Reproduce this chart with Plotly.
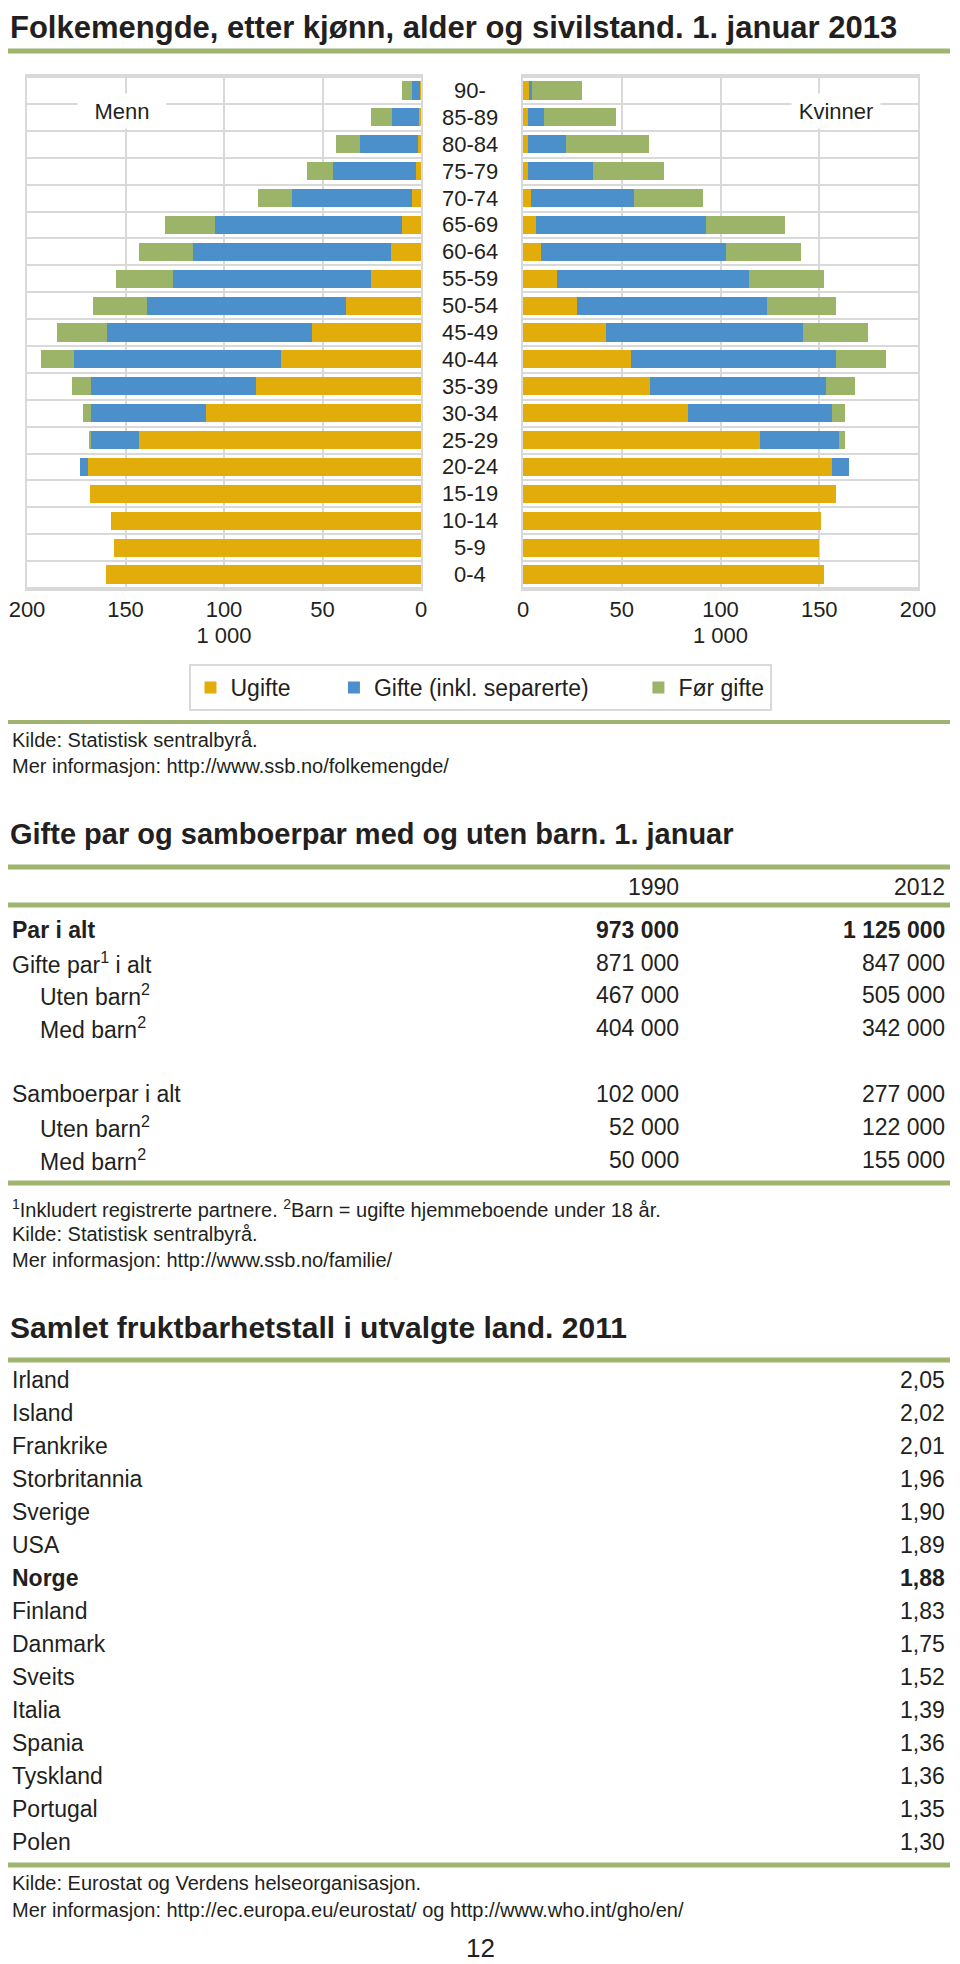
import plotly.graph_objects as go

W, H = 960, 1964
BODY = 8  # the page body margin moves the figure 8 px right and down

# --- Folkemengde (1 000 personer), yngste aldersgruppe først ---
aldersgrupper = ["0-4", "5-9", "10-14", "15-19", "20-24", "25-29", "30-34", "35-39", "40-44",
                 "45-49", "50-54", "55-59", "60-64", "65-69", "70-74", "75-79", "80-84", "85-89", "90-"]

menn_ugifte = [160.0, 156.0, 157.5, 168.0, 169.0, 143.2, 109.2, 84.0, 71.1, 55.1,
               38.1, 25.2, 15.0, 9.5, 4.4, 2.7, 1.7, 0.8, 0.6]
menn_gifte = [0, 0, 0, 0, 4.1, 24.8, 58.5, 83.7, 104.8, 104.4,
              101.0, 100.7, 100.5, 95.2, 61.2, 41.8, 29.3, 13.9, 4.1]
menn_for_gifte = [0, 0, 0, 0, 0, 0.7, 4.1, 9.4, 17.0, 25.2,
                  27.6, 29.1, 27.7, 25.2, 17.0, 13.6, 12.2, 10.9, 5.1]

kvinner_ugifte = [152.3, 149.9, 151.1, 158.7, 156.3, 120.0, 83.6, 64.3, 54.8, 41.8,
                  27.4, 17.1, 9.3, 6.8, 4.1, 2.4, 2.5, 2.5, 3.0]
kvinner_gifte = [0, 0, 0, 0, 9.0, 40.1, 72.9, 89.2, 103.9, 99.8,
                 96.1, 97.5, 93.4, 85.8, 51.9, 32.8, 19.3, 8.0, 1.4]
kvinner_for_gifte = [0, 0, 0, 0, 0, 2.7, 6.3, 14.6, 25.0, 33.0,
                     35.2, 37.7, 38.1, 40.1, 35.2, 36.4, 42.1, 36.4, 25.5]

x_ticks = [0, 50, 100, 150, 200]

# --- Gifte par og samboerpar ---
par_aar = ["1990", "2012"]
par_tekst = ["Par i alt", "Gifte par<sup>1</sup> i alt", "Uten barn<sup>2</sup>", "Med barn<sup>2</sup>",
             "Samboerpar i alt", "Uten barn<sup>2</sup>", "Med barn<sup>2</sup>"]
par_1990 = [973000, 871000, 467000, 404000, 102000, 52000, 50000]
par_2012 = [1125000, 847000, 505000, 342000, 277000, 122000, 155000]

# --- Samlet fruktbarhetstall 2011 ---
land = ["Irland", "Island", "Frankrike", "Storbritannia", "Sverige", "USA", "Norge", "Finland",
        "Danmark", "Sveits", "Italia", "Spania", "Tyskland", "Portugal", "Polen"]
fruktbarhet = [2.05, 2.02, 2.01, 1.96, 1.90, 1.89, 1.88, 1.83, 1.75, 1.52, 1.39, 1.36, 1.36, 1.35, 1.30]

C_UGIFTE = "#e2ac0a"
C_GIFTE = "#4b8fcb"
C_FOR = "#9bb467"
C_LINE = "#9fb46f"
GRID = "#d9d9d9"
CHART_FONT = "Liberation Sans, Arial, sans-serif"
TXT_FONT = "Liberation Sans Narrow, Arial Narrow, Liberation Sans, Arial, sans-serif"
INK = "#231f20"
NB = "\u00a0"


def py(y):
    """Screen pixel row -> paper y."""
    return 1 - (y - BODY) / H


def px(x):
    """Screen pixel column -> paper x."""
    return (x - BODY) / W


def fmt_int(v):
    return f"{v:,}".replace(",", " ")


fig = go.Figure()

# legend spacing as in the original (trailing no-break spaces)
legend_pad = [6, 7, 0]
series = [
    ("Ugifte", menn_ugifte, kvinner_ugifte, C_UGIFTE),
    ("Gifte (inkl. separerte)", menn_gifte, kvinner_gifte, C_GIFTE),
    ("Før gifte", menn_for_gifte, kvinner_for_gifte, C_FOR),
]
for (name, m, k, col), pad in zip(series, legend_pad):
    fig.add_trace(go.Bar(x=m, y=aldersgrupper, orientation="h", name=name + NB * pad,
                         marker_color=col, marker_line_width=0, xaxis="x", yaxis="y",
                         legendgroup=name))
    fig.add_trace(go.Bar(x=k, y=aldersgrupper, orientation="h", name=name, marker_color=col,
                         marker_line_width=0, xaxis="x2", yaxis="y2", legendgroup=name,
                         showlegend=False))

ax_common = dict(
    tickvals=x_ticks, ticktext=[str(t) for t in x_ticks],
    showgrid=True, gridcolor=GRID, gridwidth=2,
    showline=True, linecolor=GRID, linewidth=2, mirror=True,
    zeroline=False, ticks="", automargin=False,
    tickfont=dict(size=22, family=CHART_FONT, color=INK),
    title=dict(text="1 000", font=dict(size=22, family=CHART_FONT, color=INK), standoff=6),
)
y_common = dict(
    type="category", tickson="boundaries", showgrid=True, gridcolor=GRID, gridwidth=2,
    showticklabels=False, ticks="", showline=True, linecolor=GRID, linewidth=2, mirror=True,
    automargin=False, domain=[py(589), py(76)],
)

fig.update_layout(
    width=W, height=H,
    margin=dict(l=0, r=0, t=0, b=0, autoexpand=False),
    paper_bgcolor="white", plot_bgcolor="white",
    barmode="stack", bargap=0.33,
    font=dict(family=CHART_FONT, color=INK),
    xaxis=dict(domain=[px(27), px(421)], range=[200, 0], anchor="y", **ax_common),
    xaxis2=dict(domain=[px(523), px(918)], range=[0, 200], anchor="y2", **ax_common),
    yaxis=dict(anchor="x", **y_common),
    yaxis2=dict(anchor="x2", matches="y", **y_common),
    legend=dict(orientation="h", x=px(480), xanchor="center", y=py(664), yanchor="top",
                bordercolor=GRID, borderwidth=2, traceorder="normal",
                font=dict(size=23, family=CHART_FONT, color=INK), itemwidth=30),
    showlegend=True,
)

ann = []
shapes = []


def text(x, y, s, size=22, bold=False, anchor="left", family=TXT_FONT, yref="paper"):
    if bold:
        s = f"<b>{s}</b>"
    ann.append(dict(x=x, y=y, xref="paper", yref=yref, text=s, showarrow=False,
                    xanchor=anchor, yanchor="middle",
                    font=dict(size=size, family=family, color=INK)))


def rule(y, width=5):
    shapes.append(dict(type="line", xref="paper", yref="paper", x0=px(BODY), x1=px(950),
                       y0=py(y), y1=py(y), line=dict(color=C_LINE, width=width)))


# Seksjon 1 (title kept just inside the top edge of the figure)
ann.append(dict(x=px(8), y=1, xref="paper", yref="paper", showarrow=False,
                text="<b>Folkemengde, etter kjønn, alder og sivilstand. 1. januar 2013</b>",
                xanchor="left", yanchor="top", font=dict(size=31, family=TXT_FONT, color=INK)))
rule(51)
for a in aldersgrupper:
    text(px(470), a, a, size=22, anchor="center", family=CHART_FONT, yref="y")
for label, xc in [("Menn", 122), ("Kvinner", 836)]:
    ann.append(dict(x=px(xc), y=py(111), xref="paper", yref="paper", text=label, showarrow=False,
                    xanchor="center", yanchor="middle", bgcolor="white", width=86, height=32,
                    font=dict(size=22, family=CHART_FONT, color=INK)))
rule(722, 4)
text(px(10), py(740), "Kilde: Statistisk sentralbyrå.", size=20)
text(px(10), py(766), "Mer informasjon: http://www.ssb.no/folkemengde/", size=20)

# Seksjon 2
text(px(8), py(834), "Gifte par og samboerpar med og uten barn. 1. januar", size=29, bold=True)
rule(867)
text(px(681), py(887), par_aar[0], size=23, anchor="right")
text(px(947), py(887), par_aar[1], size=23, anchor="right")
rule(905)
for i, (lab, v1, v2) in enumerate(zip(par_tekst, par_1990, par_2012)):
    y = 930 + i * 32.6 + (34 if i >= 4 else 0)
    bold = i == 0
    indent = 38 if lab.startswith(("Uten", "Med")) else 10
    text(px(indent), py(y), lab, size=23, bold=bold)
    text(px(681), py(y), fmt_int(v1), size=23, bold=bold, anchor="right")
    text(px(947), py(y), fmt_int(v2), size=23, bold=bold, anchor="right")
rule(1183)
text(px(10), py(1208), "<sup>1</sup>Inkludert registrerte partnere. <sup>2</sup>Barn = ugifte hjemmeboende under 18 år.", size=20)
text(px(10), py(1234), "Kilde: Statistisk sentralbyrå.", size=20)
text(px(10), py(1260), "Mer informasjon: http://www.ssb.no/familie/", size=20)

# Seksjon 3
text(px(8), py(1327), "Samlet fruktbarhetstall i utvalgte land. 2011", size=30, bold=True)
rule(1360)
for i, (l, v) in enumerate(zip(land, fruktbarhet)):
    y = 1380 + i * 33.0
    bold = l == "Norge"
    text(px(10), py(y), l, size=23, bold=bold)
    text(px(947), py(y), f"{v:.2f}".replace(".", ","), size=23, bold=bold, anchor="right")
rule(1865)
text(px(10), py(1883), "Kilde: Eurostat og Verdens helseorganisasjon.", size=20)
text(px(10), py(1910), "Mer informasjon: http://ec.europa.eu/eurostat/ og http://www.who.int/gho/en/", size=20)
text(px(480), py(1948), "12", size=26, anchor="center", family=CHART_FONT)

fig.update_layout(annotations=ann, shapes=shapes)
fig.write_html("out.html")
